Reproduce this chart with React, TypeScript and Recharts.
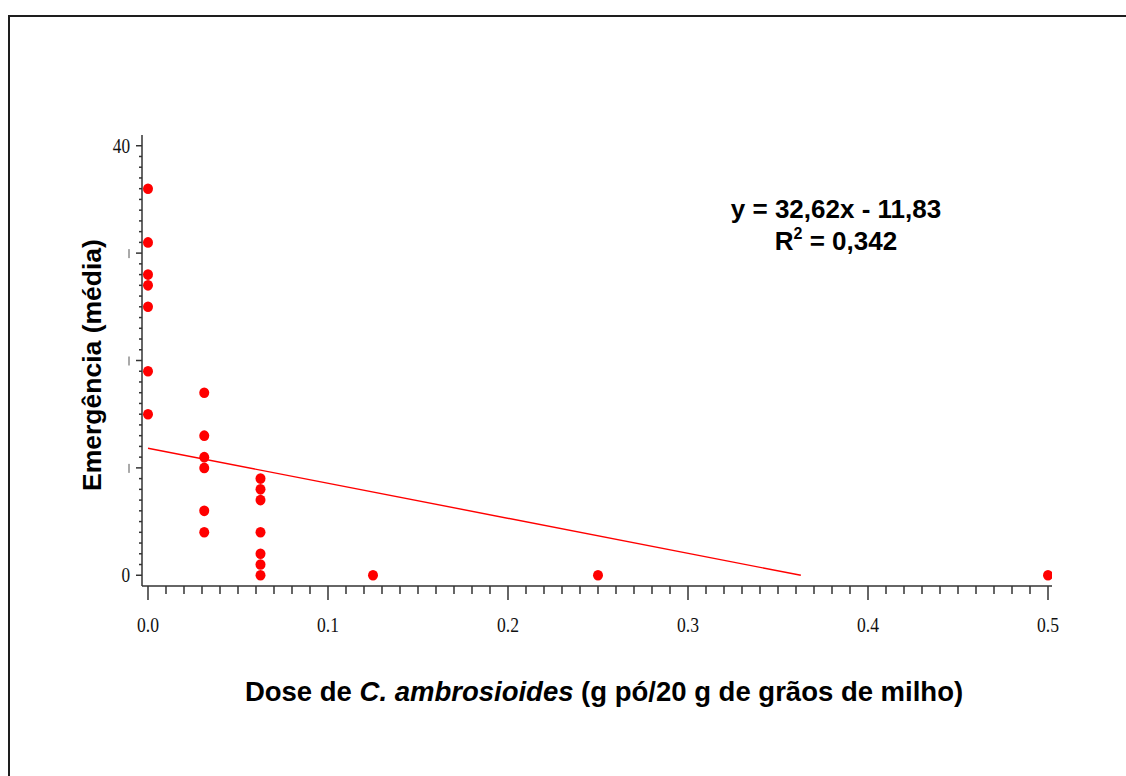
import React from 'react';
import { ScatterChart, Scatter, XAxis, YAxis } from 'recharts';

// Observed doses (g pó / 20 g de grãos de milho)
const doseZero = [0, 0, 0, 0, 0, 0, 0];
const emergZero = [36, 31, 28, 27, 25, 19, 15];
const doseA = [0.03125, 0.03125, 0.03125, 0.03125, 0.03125, 0.03125];
const emergA = [17, 13, 11, 10, 6, 4];
const doseB = [0.0625, 0.0625, 0.0625, 0.0625, 0.0625, 0.0625, 0.0625];
const emergB = [9, 8, 7, 4, 2, 1, 0];
const doseHigh = [0.125, 0.25, 0.5];
const emergHigh = [0, 0, 0];

// Fitted line endpoints (as drawn)
const fitX = [0, 0.3627];
const fitY = [11.83, 0];

const xTicks = Array.from({ length: 51 }, (_, i) => i / 100);
const yTicks = Array.from({ length: 41 }, (_, i) => i);
const xLabelled = [0, 0.1, 0.2, 0.3, 0.4, 0.5];
const yLabelled = [0, 40];
const yMajor = [0, 10, 20, 30, 40];

const points = [
  ...doseZero.map((x, i) => ({ x, y: emergZero[i] })),
  ...doseA.map((x, i) => ({ x, y: emergA[i] })),
  ...doseB.map((x, i) => ({ x, y: emergB[i] })),
  ...doseHigh.map((x, i) => ({ x, y: emergHigh[i] })),
];
const fitLine = fitX.map((x, i) => ({ x, y: fitY[i] }));

const AXIS = '#333';
const RED = '#ff0000';
const SANS = 'Liberation Sans, Arial, sans-serif';

const XTick = (props: any) => {
  const { x, y, payload } = props;
  const v = Math.round(payload.value * 100) / 100;
  const major = xLabelled.some((m) => Math.abs(m - v) < 1e-9);
  return (
    <g>
      <line x1={x} y1={y} x2={x} y2={y + (major ? 14 : 8)} stroke={AXIS} strokeWidth={1.5} />
      {major && (
        <text
          transform={`translate(${x},${y + 46}) scale(0.8,1)`}
          textAnchor="middle"
          fontFamily="Liberation Serif"
          fontSize={22}
          fill="#111"
        >
          {v.toFixed(1)}
        </text>
      )}
    </g>
  );
};

const YTick = (props: any) => {
  const { x, y, payload } = props;
  const v = payload.value;
  const major = yMajor.includes(v);
  const labelled = yLabelled.includes(v);
  return (
    <g>
      <line x1={x} y1={y} x2={x - (major ? 6 : 3)} y2={y} stroke={AXIS} strokeWidth={1.5} />
      {labelled ? (
        <text
          transform={`translate(${x - 12},${y + 7}) scale(0.82,1)`}
          textAnchor="end"
          fontFamily="Liberation Serif"
          fontSize={21}
          fill="#111"
        >
          {v}
        </text>
      ) : major ? (
        <line x1={x - 13} y1={y - 4} x2={x - 13} y2={y + 5} stroke="#555" strokeWidth={1} />
      ) : null}
    </g>
  );
};

const Dot = (props: any) => (
  <ellipse cx={props.cx} cy={props.cy} rx={5} ry={5.3} fill={RED} />
);

export default function App() {
  return (
    <div
      style={{
        position: 'fixed',
        left: 0,
        top: 0,
        width: 1126,
        height: 776,
        overflow: 'hidden',
        background: '#fff',
      }}
    >
      <div
        style={{
          position: 'absolute',
          left: 8,
          top: 15,
          width: 1118,
          height: 761,
          borderTop: '2px solid #1e1e1e',
          borderLeft: '2px solid #1e1e1e',
          boxSizing: 'border-box',
        }}
      />
      <div style={{ position: 'absolute', left: 0, top: 0 }}>
        <ScatterChart
          width={1126}
          height={776}
          margin={{ top: 135, right: 74, bottom: 150, left: 82 }}
        >
          <XAxis
            type="number"
            dataKey="x"
            domain={[-0.003333, 0.502222]}
            ticks={xTicks}
            interval={0}
            allowDataOverflow
            axisLine={{ stroke: AXIS, strokeWidth: 1.5 }}
            tickLine={false}
            tickSize={0}
            tickMargin={0}
            height={40}
            tick={<XTick />}
          />
          <YAxis
            type="number"
            dataKey="y"
            domain={[-1, 41]}
            ticks={yTicks}
            interval={0}
            allowDataOverflow
            axisLine={{ stroke: AXIS, strokeWidth: 1.5 }}
            tickLine={false}
            tickSize={0}
            tickMargin={0}
            width={60}
            tick={<YTick />}
          />
          <Scatter
            data={fitLine}
            line={{ stroke: RED, strokeWidth: 1.4 }}
            shape={() => null}
            isAnimationActive={false}
          />
          <Scatter data={points} shape={<Dot />} isAnimationActive={false} />
        </ScatterChart>
      </div>
      <div
        style={{
          position: 'absolute',
          left: 836,
          top: 227,
          transform: 'translate(-50%,-50%)',
          textAlign: 'center',
          fontFamily: SANS,
          fontWeight: 'bold',
          fontSize: 26,
          lineHeight: '32px',
          color: '#000',
          whiteSpace: 'nowrap',
        }}
      >
        <div>y = 32,62x - 11,83</div>
        <div>
          R
          <span style={{ fontSize: 16, position: 'relative', top: -11 }}>2</span> = 0,342
        </div>
      </div>
      <div
        style={{
          position: 'absolute',
          left: 604,
          top: 692,
          transform: 'translate(-50%,-50%)',
          textAlign: 'center',
          fontFamily: SANS,
          fontWeight: 'bold',
          fontSize: 27.5,
          color: '#000',
          whiteSpace: 'nowrap',
        }}
      >
        Dose de <i>C. ambrosioides</i> (g pó/20 g de grãos de milho)
      </div>
      <div
        style={{
          position: 'absolute',
          left: 92,
          top: 365,
          transform: 'translate(-50%,-50%) rotate(-90deg)',
          fontFamily: SANS,
          fontWeight: 'bold',
          fontSize: 26.5,
          color: '#000',
          whiteSpace: 'nowrap',
        }}
      >
        Emergência (média)
      </div>
    </div>
  );
}
